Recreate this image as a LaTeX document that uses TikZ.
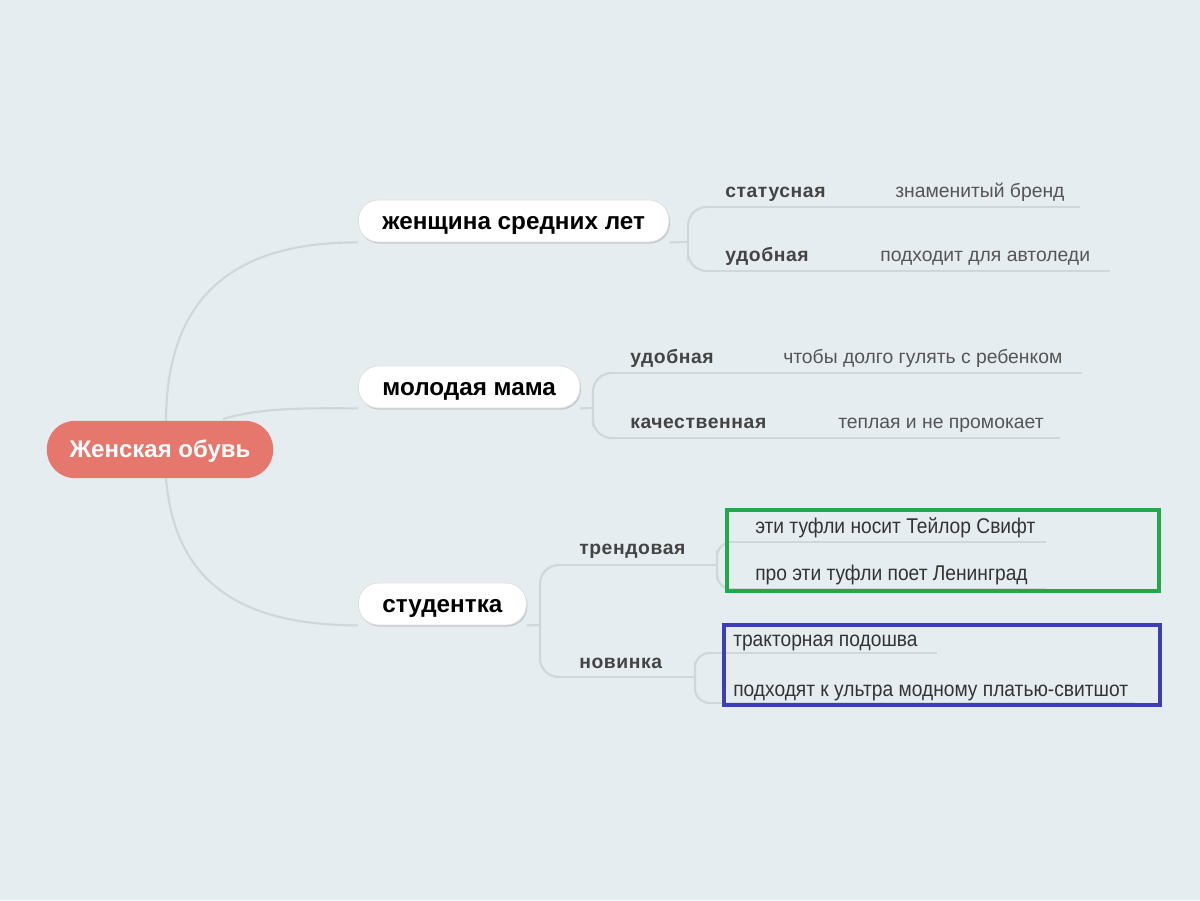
\documentclass[tikz,border=0pt]{standalone}
\usepackage{fontspec}
\setmainfont{Liberation Sans}
\newfontfamily\narrowfont[FakeStretch=0.9]{Liberation Sans}
\newfontfamily\labfont[LetterSpace=3]{Liberation Sans}
\usepackage{tikz}
\usetikzlibrary{positioning, shadows, backgrounds}
\definecolor{bgcol}{HTML}{E6EDF1}
\definecolor{linkcol}{HTML}{D0D6DA}
\definecolor{rootcol}{HTML}{E5776C}
\definecolor{labcol}{HTML}{444444}
\definecolor{desccol}{HTML}{555555}
\definecolor{notecol}{HTML}{333333}
\definecolor{boxgreen}{HTML}{22A84A}
\definecolor{boxblue}{HTML}{3A3FB5}
\tikzset{
rootnode/.style={rounded corners=21pt, fill=rootcol, text=white, font=\bfseries\fontsize{18}{21}\selectfont, minimum height=43pt, inner xsep=17pt, text height=12.6pt, text depth=0pt},
topic/.style={anchor=west, rounded corners=15pt, fill=white, draw=gray!25, line width=0.6pt, drop shadow={shadow xshift=0.8pt, shadow yshift=-1.2pt, fill=black, opacity=0.15}, font=\bfseries\fontsize{18.2}{21}\selectfont, minimum height=31.5pt, inner xsep=18pt, text height=13pt, text depth=0pt},
lab/.style={anchor=west, inner sep=0, text height=10.4pt, text depth=0pt, font=\labfont\bfseries\fontsize{14.5}{17}\selectfont, text=labcol},
desc/.style={lab, font=\fontsize{14.5}{17}\selectfont, text=desccol},
note/.style={lab, text height=12pt, font=\narrowfont\fontsize{16}{18}\selectfont, text=notecol},
link/.style={draw=linkcol, line width=1.6pt},
brace/.style={link, rounded corners=14pt},
smallbrace/.style={link, rounded corners=11pt},
frame/.style={line width=2.4pt}}

\begin{document}
\begin{tikzpicture}[x=0.75pt, y=-0.75pt]
\useasboundingbox (0,0) rectangle (1200,900);
\node [rootnode] at (160,449.5) (root) {Женская обувь};
\node [topic] at (358,221) (women) {женщина средних лет};
\node [topic] at (358,387) (mama) {молодая мама};
\node [topic] at (358,604) (stud) {студентка};

% leaves of the first two topics
\foreach \lbl/\desc/\lx/\dx/\y/\ex [count=\i] in {
    статусная/знаменитый бренд/725/895/191/1080,
    удобная/подходит для автоледи/725/880/255/1110,
    удобная/чтобы долго гулять с ребенком/630/783/357/1082,
    качественная/теплая и не промокает/630/838/422/1060}{
      \node [lab] at (\lx,\y) (lab-\i) {\lbl};
      \node [desc] at (\dx,\y) (desc-\i) {\desc};
      \coordinate (start-\i) at (\lx-22,\y+16);
      \coordinate (end-\i) at (\ex,\y+16);
}
\coordinate (wfork) at (688,242);
\coordinate (mfork) at (593,408);
\coordinate (sfork) at (540,625);

% student branch
\node [lab] at (579,548) (trend) {трендовая};
\node [lab] at (579,662) (novel) {новинка};
\foreach \txt/\y/\ex [count=\i] in {
    эти туфли носит Тейлор Свифт/525/1046,
    про эти туфли поет Ленинград/572/1046}{
      \node [note] at (755,\y) (tnote-\i) {\txt};
      \coordinate (tend-\i) at (\ex,\y+17);
}
\foreach \txt/\y/\ex [count=\i] in {
    тракторная подошва/638/937,
    подходят к ультра модному платью-свитшот/688/1135}{
      \node [note] at (733,\y) (nnote-\i) {\txt};
      \coordinate (nend-\i) at (\ex,\y+15);
}
\draw [frame, draw=boxgreen] (727,510) rectangle (1159,591);
\draw [frame, draw=boxblue] (724,625) rectangle (1160,705);

\begin{scope}[on background layer]
\fill [bgcol] (0,0) rectangle (1200,900);
\draw [link] (166,422) .. controls (166,300) and (230,242) .. (women.south west);
\draw [link] (223,419) .. controls (260,408) and (300,408) .. (mama.south west);
\draw [link] (166,478) .. controls (175,590) and (250,625) .. (stud.south west);
\foreach \i in {1,...,4}
    \draw [link] (start-\i) -- (end-\i);
\draw [link] (women.south east) -- (wfork);
\draw [brace] (703,207) -| (wfork) |- (703,271);
\draw [link] (mama.south east) -- (mfork);
\draw [brace] (608,373) -| (mfork) |- (608,438);
\draw [link] (stud.south east) -- (sfork);
\draw [brace] (555,565) -| (sfork) |- (555,677);
\draw [link] (555,565) -- (717,565);
\draw [link] (555,677) -- (695,677);
\draw [smallbrace] (731,542) -| (717,565) |- (731,589);
\foreach \i/\y in {1/542, 2/589}
    \draw [link] (731,\y) -- (tend-\i);
\draw [smallbrace] (709,653) -| (695,677) |- (709,703);
\foreach \i/\y in {1/653, 2/703}
    \draw [link] (709,\y) -- (nend-\i);
\end{scope}
\end{tikzpicture}
\end{document}
